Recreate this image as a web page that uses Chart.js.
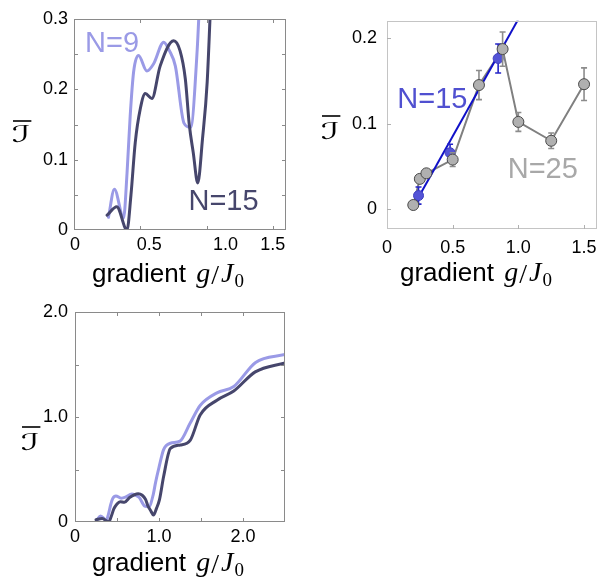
<!DOCTYPE html>
<html><head><meta charset="utf-8">
<script src="https://cdn.jsdelivr.net/npm/chart.js@4.4.1/dist/chart.umd.min.js"></script>
<style>
html,body{margin:0;padding:0;background:#fff;width:605px;height:580px;overflow:hidden}
.p{position:absolute}
canvas{display:block}
</style></head><body>
<div class="p" style="left:0;top:0;width:300px;height:290px"><canvas id="c1" width="300" height="290"></canvas></div>
<div class="p" style="left:300px;top:0;width:305px;height:290px"><canvas id="c2" width="305" height="290"></canvas></div>
<div class="p" style="left:0;top:290px;width:300px;height:290px"><canvas id="c3" width="300" height="290"></canvas></div>
<script>
// ---------- data ----------
// N=9 curve (light)
const n9X = [0.26, 0.305, 0.374, 0.40, 0.424, 0.45, 0.487, 0.55, 0.60, 0.677, 0.72, 0.765, 0.83, 0.88, 0.93, 0.96, 1.0, 1.055, 1.135, 1.25, 1.37, 1.49, 1.69, 1.89, 2.15, 2.5];
const n9Y = [0.018, 0.058, 0.017, 0.08, 0.162, 0.225, 0.248, 0.226, 0.236, 0.267, 0.255, 0.233, 0.152, 0.146, 0.257, 0.38, 0.52, 0.69, 0.75, 0.77, 0.94, 1.11, 1.23, 1.29, 1.52, 1.595];
// N=15 curve (dark)
const n15X = [0.25, 0.323, 0.40, 0.43, 0.462, 0.50, 0.538, 0.588, 0.65, 0.752, 0.80, 0.84, 0.87, 0.90, 0.934, 0.97, 1.005, 1.055, 1.135, 1.254, 1.373, 1.49, 1.69, 1.89, 2.146, 2.5];
const n15Y = [0.021, 0.033, 0.0, 0.05, 0.124, 0.172, 0.194, 0.187, 0.233, 0.269, 0.255, 0.215, 0.15, 0.11, 0.067, 0.13, 0.21, 0.433, 0.70, 0.734, 0.78, 1.02, 1.16, 1.247, 1.43, 1.516];
// N=25 points with error bars (gray)
const n25X = [0.2, 0.25, 0.3, 0.5, 0.7, 0.88, 1.0, 1.25, 1.5];
const n25Y = [0.005, 0.0355, 0.042, 0.058, 0.145, 0.187, 0.102, 0.080, 0.146];
const n25Err = [0.002, 0.004, 0.004, 0.008, 0.017, 0.02, 0.011, 0.009, 0.019];
// N=15 points with error bars (blue) and linear fit
const n15bX = [0.24, 0.48, 0.846];
const n15bY = [0.016, 0.066, 0.176];
const n15bErr = [0.01, 0.01, 0.017];
const fitX = [0.22, 1.0];
const fitY = [0.0085, 0.222];
// tick labels
const p1XTicks = [0, 0.5, 1.0, 1.5];
const p1XLabels = ['0', '0.5', '1.0', '1.5'];
const p1YTicks = [0, 0.1, 0.2, 0.3];
const p1YLabels = ['0', '0.1', '0.2', '0.3'];
const p2XTicks = [0, 0.5, 1.0, 1.5];
const p2XLabels = ['0', '0.5', '1.0', '1.5'];
const p2YTicks = [0, 0.1, 0.2];
const p2YLabels = ['0', '0.1', '0.2'];
const p3XTicks = [0, 1.0, 2.0];
const p3XLabels = ['0', '1.0', '2.0'];
const p3YTicks = [0, 1.0, 2.0];
const p3YLabels = ['0', '1.0', '2.0'];

// ---------- styling ----------
const FONT = '"Liberation Sans", Arial, Helvetica, sans-serif';
const LIGHT = '#9a9ae6', DARK = '#46466c';
function pts(xs, ys) { return xs.map((x, i) => ({x: x, y: ys[i]})); }

const framePlugin = {
  id: 'frame',
  afterDatasetsDraw(chart, args, o) {
    const ctx = chart.ctx, a = chart.chartArea, x = chart.scales.x, y = chart.scales.y;
    ctx.save();
    ctx.strokeStyle = o.color; ctx.lineWidth = 1;
    ctx.strokeRect(Math.round(a.left) + 0.5, Math.round(a.top) + 0.5, Math.round(a.right - a.left) - 1, Math.round(a.bottom - a.top) - 1);
    ctx.strokeStyle = o.tickColor || o.color;
    ctx.beginPath();
    const L = o.len || 5;
    (o.xTicks || []).forEach(v => {
      const p = Math.round(x.getPixelForValue(v)) + 0.5;
      ctx.moveTo(p, a.bottom); ctx.lineTo(p, a.bottom - L);
      if (o.top) { ctx.moveTo(p, a.top); ctx.lineTo(p, a.top + L); }
    });
    (o.yTicks || []).forEach(v => {
      const p = Math.round(y.getPixelForValue(v)) + 0.5;
      ctx.moveTo(a.left, p); ctx.lineTo(a.left + L, p);
      if (o.right) { ctx.moveTo(a.right, p); ctx.lineTo(a.right - L, p); }
    });
    ctx.stroke();
    ctx.restore();
  }
};

const errPlugin = {
  id: 'err',
  beforeDatasetDraw(chart, args) {
    const ds = chart.data.datasets[args.index];
    if (!ds.err) return;
    const ctx = chart.ctx, x = chart.scales.x, y = chart.scales.y;
    ctx.save();
    ctx.strokeStyle = ds.errColor; ctx.lineWidth = 1.6;
    ds.data.forEach((p, i) => {
      const px = x.getPixelForValue(p.x);
      const y1 = y.getPixelForValue(p.y + ds.err[i]), y2 = y.getPixelForValue(p.y - ds.err[i]);
      ctx.beginPath();
      ctx.moveTo(px, y1); ctx.lineTo(px, y2);
      ctx.moveTo(px - 3, y1); ctx.lineTo(px + 3, y1);
      ctx.moveTo(px - 3, y2); ctx.lineTo(px + 3, y2);
      ctx.stroke();
    });
    ctx.restore();
  }
};

function drawXTitle(ctx, x0, base) {
  let x = x0;
  ctx.fillStyle = '#000'; ctx.textAlign = 'left'; ctx.textBaseline = 'alphabetic';
  ctx.font = '26px ' + FONT;
  ctx.fillText('gradient', x, base);
  x += ctx.measureText('gradient ').width + 3;
  ctx.font = 'italic 28px "Liberation Serif", "DejaVu Serif", serif';
  ctx.fillText('g', x, base);
  x += ctx.measureText('g').width + 1;
  ctx.font = '28px "Liberation Serif", "DejaVu Serif", serif';
  ctx.fillText('/', x, base + 2);
  x += ctx.measureText('/').width + 2;
  ctx.font = 'italic 28px "Liberation Serif", "DejaVu Serif", serif';
  ctx.fillText('J', x, base);
  x += ctx.measureText('J').width + 1;
  ctx.font = '19px "Liberation Serif", "DejaVu Serif", serif';
  ctx.fillText('0', x, base + 5);
}

function drawYTitle(ctx, x0, base, barY) {
  ctx.save();
  ctx.fillStyle = '#000'; ctx.textAlign = 'left'; ctx.textBaseline = 'alphabetic';
  ctx.font = '23px "DejaVu Sans", "DejaVu Serif", serif';
  const w = ctx.measureText('\u2110').width * 1.7;
  ctx.translate(x0, base);
  ctx.scale(1.7, 1);
  ctx.fillText('\u2110', 0, 0);
  ctx.restore();
  ctx.save();
  ctx.strokeStyle = '#000'; ctx.lineWidth = 1.6;
  ctx.beginPath(); ctx.moveTo(x0 + 1, barY); ctx.lineTo(x0 + w + 1, barY); ctx.stroke();
  ctx.restore();
}

const decoPlugin = {
  id: 'deco',
  afterDraw(chart, args, o) {
    const ctx = chart.ctx, x = chart.scales.x, y = chart.scales.y;
    ctx.save();
    if (o.xTitle) drawXTitle(ctx, o.xTitle.x, o.xTitle.y);
    if (o.yTitle) drawYTitle(ctx, o.yTitle.x, o.yTitle.y, o.yTitle.bar);
    (o.notes || []).forEach(n => {
      ctx.font = '29px ' + FONT; ctx.fillStyle = n.color;
      ctx.textAlign = 'left'; ctx.textBaseline = 'alphabetic';
      ctx.fillText(n.text, x.getPixelForValue(n.x), y.getPixelForValue(n.y));
    });
    if (o.xLabels) {
      ctx.font = '18px ' + FONT; ctx.fillStyle = '#000';
      ctx.textAlign = 'center'; ctx.textBaseline = 'alphabetic';
      o.xLabels.values.forEach((v, i) => {
        ctx.fillText(o.xLabels.labels[i], x.getPixelForValue(v) + o.xLabels.shift[i], chart.chartArea.bottom + o.xLabels.dy);
      });
    }
    ctx.restore();
  }
};

function axis(min, max, vals, labels, opts) {
  return {
    type: 'linear', min: min, max: max,
    grid: {display: false, drawTicks: false},
    border: {display: false},
    ticks: {
      display: opts.show !== false,
      font: {family: FONT, size: 18}, color: '#000',
      padding: opts.pad, maxRotation: 0, autoSkip: false,
      callback: (v, i) => labels[i]
    },
    afterBuildTicks: s => { s.ticks = vals.map(v => ({value: v})); },
    afterFit: s => { if (opts.w !== undefined) s.width = opts.w; if (opts.h !== undefined) s.height = opts.h; }
  };
}

const baseOpts = {
  responsive: false, animation: false, devicePixelRatio: 1, events: [],
};

function curveDs(xs, ys, color, order) {
  return {data: pts(xs, ys), borderColor: color, borderWidth: 3, pointRadius: 0, showLine: true,
    cubicInterpolationMode: 'monotone', borderJoinStyle: 'round', borderCapStyle: 'round', fill: false, order: order};
}

// ---------- panel 1 ----------
new Chart(document.getElementById('c1'), {
  type: 'scatter',
  data: {datasets: [curveDs(n15X, n15Y, DARK, 0), curveDs(n9X, n9Y, LIGHT, 1)]},
  options: Object.assign({}, baseOpts, {
    layout: {padding: {left: 0, top: 19, right: 14, bottom: 0}},
    scales: {
      x: axis(0, 1.6, p1XTicks, p1XLabels, {h: 60, pad: 2, show: false}),
      y: axis(0, 0.3, p1YTicks, p1YLabels, {w: 74, pad: 6})
    },
    plugins: {
      legend: {display: false}, tooltip: {enabled: false},
      frame: {color: '#8a8a8a', xTicks: [0.5, 1.0, 1.5], yTicks: [0.05, 0.1, 0.15, 0.2, 0.25], top: true, right: true, len: 4},
      deco: {
        xTitle: {x: 92, y: 282},
        yTitle: {x: 12, y: 142, bar: 121},
        notes: [{text: 'N=9', x: 0.083, y: 0.253, color: LIGHT}, {text: 'N=15', x: 0.864, y: 0.0286, color: DARK}],
        xLabels: {values: p1XTicks, labels: p1XLabels, shift: [1, 9, 19, 0], dy: 20}
      }
    }
  }),
  plugins: [framePlugin, decoPlugin]
});

// ---------- panel 2 ----------
new Chart(document.getElementById('c2'), {
  type: 'scatter',
  data: {datasets: [
    {data: pts(n25X, n25Y), showLine: false, pointRadius: 5.5, pointBackgroundColor: '#b0b0b0', pointBorderColor: '#4a4a4a', pointBorderWidth: 1, order: 0,
     err: n25Err, errColor: '#8c8c8c'},
    {data: pts(n15bX, n15bY), showLine: false, pointRadius: 5, pointBackgroundColor: '#5454d6', pointBorderColor: '#4040c0', pointBorderWidth: 1, order: 1,
     err: n15bErr, errColor: '#2424c8'},
    {data: pts(fitX, fitY), showLine: true, borderColor: '#1010c8', borderWidth: 2, pointRadius: 0, order: 2},
    {data: pts(n25X, n25Y), showLine: true, borderColor: '#808080', borderWidth: 2, pointRadius: 0, order: 3}
  ]},
  options: Object.assign({}, baseOpts, {
    layout: {padding: {left: 0, top: 19, right: 7, bottom: 0}},
    scales: {
      x: axis(0, 1.6, p2XTicks, p2XLabels, {h: 61, pad: 8}),
      y: axis(-0.023, 0.22, p2YTicks, p2YLabels, {w: 87, pad: 10})
    },
    plugins: {
      legend: {display: false}, tooltip: {enabled: false},
      frame: {color: '#c4c4c4', tickColor: '#b0b0b0', xTicks: [0.5, 1.0, 1.5], yTicks: [0, 0.1, 0.2], top: false, right: false, len: 4},
      deco: {
        xTitle: {x: 100, y: 281},
        yTitle: {x: 21, y: 139, bar: 116},
        notes: [{text: 'N=15', x: 0.078, y: 0.118, color: '#5050d0'}, {text: 'N=25', x: 0.919, y: 0.037, color: '#a8a8a8'}]
      }
    }
  }),
  plugins: [errPlugin, framePlugin, decoPlugin]
});

// ---------- panel 3 ----------
new Chart(document.getElementById('c3'), {
  type: 'scatter',
  data: {datasets: [curveDs(n15X, n15Y, DARK, 0), curveDs(n9X, n9Y, LIGHT, 1)]},
  options: Object.assign({}, baseOpts, {
    layout: {padding: {left: 0, top: 22, right: 15, bottom: 0}},
    scales: {
      x: axis(0, 2.5, p3XTicks, p3XLabels, {h: 58, pad: 4}),
      y: axis(0, 2.0, p3YTicks, p3YLabels, {w: 75, pad: 7})
    },
    plugins: {
      legend: {display: false}, tooltip: {enabled: false},
      frame: {color: '#8a8a8a', xTicks: [0.5, 1.0, 1.5, 2.0], yTicks: [0.5, 1.0, 1.5], top: true, right: true, len: 4},
      deco: {
        xTitle: {x: 92, y: 281},
        yTitle: {x: 21, y: 160, bar: 137}
      }
    }
  }),
  plugins: [framePlugin, decoPlugin]
});
</script>
</body></html>
